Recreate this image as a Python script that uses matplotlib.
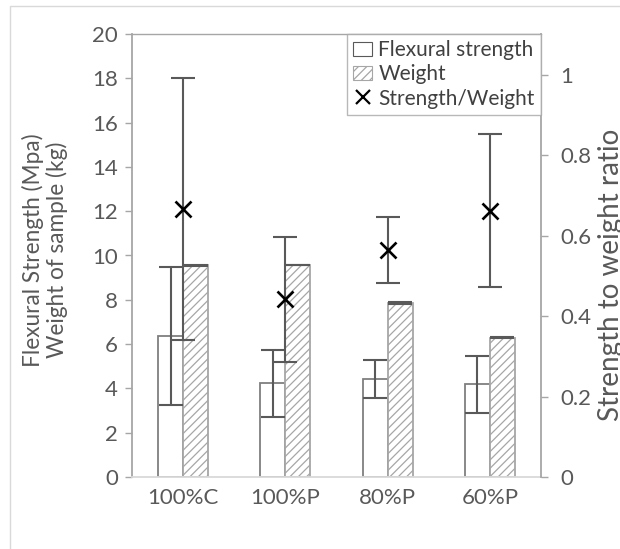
import matplotlib
matplotlib.use("Agg")
import matplotlib.pyplot as plt
from matplotlib.patches import Patch, Rectangle
from matplotlib.lines import Line2D
import numpy as np

categories = ["100%C", "100%P", "80%P", "60%P"]
flexural = [6.37, 4.23, 4.42, 4.19]
flexural_err = [3.13, 1.50, 0.87, 1.29]
weight = [9.56, 9.57, 7.84, 6.29]
weight_err = [0.03, 0.02, 0.04, 0.01]
ratio = [0.666, 0.442, 0.564, 0.662]
ratio_err = [0.325, 0.155, 0.082, 0.19]
left_ticks = list(range(0, 21, 2))
right_ticks = [0, 0.2, 0.4, 0.6, 0.8, 1]

plt.rcParams["font.family"] = ["Lato", "DejaVu Sans"]
plt.rcParams["hatch.linewidth"] = 0.9
plt.rcParams["hatch.color"] = "#7f7f7f"

W, H = 620, 549
fig = plt.figure(figsize=(W / 100, H / 100), dpi=100)

# outer chart frame
fig.patches.append(Rectangle((9.5 / W, -0.1), 1.2, 1 - 6.5 / H + 0.1,
                             transform=fig.transFigure, fill=False,
                             edgecolor="#d9d9d9", linewidth=1.0))

ax = fig.add_axes([132 / W, (H - 477) / H, (541 - 132) / W, (477 - 34) / H])
ax2 = ax.twinx()

text_col = "#595959"
fs = 16
x = np.arange(len(categories))
bw = 0.245

ax.bar(x - bw / 2, flexural, bw, color="white", edgecolor="#7f7f7f",
       linewidth=1.3, zorder=2)
ax.bar(x + bw / 2, weight, bw, color="white", edgecolor="#a6a6a6",
       hatch="////", linewidth=1.3, zorder=2)
ax.errorbar(x - bw / 2, flexural, yerr=flexural_err, fmt="none",
            ecolor="#595959", elinewidth=1.5, capsize=8.5, capthick=1.5, zorder=3)
ax.errorbar(x + bw / 2, weight, yerr=weight_err, fmt="none",
            ecolor="#595959", elinewidth=1.5, capsize=8.5, capthick=1.5, zorder=3)

ax2.errorbar(x, ratio, yerr=ratio_err, fmt="none", ecolor="#595959",
             elinewidth=1.5, capsize=8.5, capthick=1.5, zorder=3)
ax2.plot(x, ratio, linestyle="none", marker="x", markersize=11,
         markeredgewidth=1.9, color="black", zorder=4)

ax.set_xlim(-0.5, len(categories) - 0.5)
ax.set_ylim(0, 20)
ax2.set_ylim(0, 1.101)
ax.set_yticks(left_ticks)
ax2.set_yticks(right_ticks)
ax2.set_yticklabels(["0", "0.2", "0.4", "0.6", "0.8", "1"])
ax.set_xticks(x)
ax.set_xticklabels(categories)

for a in (ax, ax2):
    for s in a.spines.values():
        s.set_visible(False)
ax.spines["left"].set_visible(True)
ax.spines["left"].set_color("#a6a6a6")
ax.spines["left"].set_linewidth(1.3)
ax.spines["bottom"].set_visible(True)
ax.spines["bottom"].set_color("#d9d9d9")
ax.spines["bottom"].set_linewidth(1.3)
ax.spines["top"].set_visible(True)
ax.spines["top"].set_color("#a6a6a6")
ax.spines["top"].set_linewidth(1.0)
ax2.spines["right"].set_visible(True)
ax2.spines["right"].set_color("#a6a6a6")
ax2.spines["right"].set_linewidth(1.3)

ax.tick_params(axis="y", direction="out", length=5, width=1.0, color="#a6a6a6",
               labelsize=fs, labelcolor=text_col, pad=5)
ax.tick_params(axis="x", length=0, labelsize=fs, labelcolor=text_col, pad=8)
ax2.tick_params(axis="y", direction="out", length=5, width=1.0, color="#a6a6a6",
                labelsize=fs, labelcolor=text_col, pad=9)

fig.text(45 / W, 1 - 250 / H, "Flexural Strength (Mpa)\nWeight of sample (kg)",
         rotation=90, ha="center", va="center", multialignment="center",
         fontsize=16.3, color=text_col, linespacing=1.1)
fig.text(611 / W, 1 - 275 / H, "Strength to weight ratio", rotation=90,
         ha="center", va="center", fontsize=20, color=text_col)

handles = [
    Patch(facecolor="white", edgecolor="#595959", linewidth=0.8),
    Patch(facecolor="white", edgecolor="#a6a6a6", hatch="////", linewidth=0.8),
    Line2D([], [], linestyle="none", marker="x", markersize=10,
           markeredgewidth=1.6, color="black"),
]
labels = ["Flexural strength", "Weight", "Strength/Weight"]
leg = ax2.legend(handles, labels, loc="upper right", bbox_to_anchor=(1.0, 1.0),
                 borderaxespad=0, frameon=True, fancybox=False, fontsize=15,
                 handlelength=0.9, handleheight=0.7, handletextpad=0.3,
                 labelspacing=0.2, borderpad=0.3)
leg.get_frame().set_edgecolor("#a6a6a6")
leg.get_frame().set_linewidth(1.0)
for t in leg.get_texts():
    t.set_color("#404040")
leg.set_zorder(10)

fig.savefig("out.png", dpi=100)
